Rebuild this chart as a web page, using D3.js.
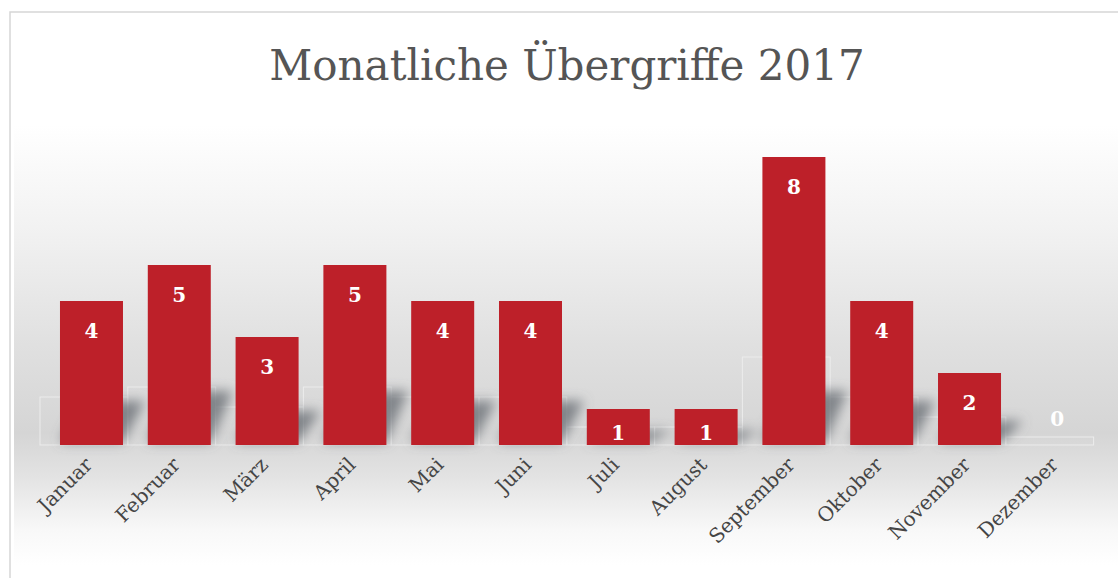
<!DOCTYPE html>
<html>
<head>
<meta charset="utf-8">
<script src="https://cdn.jsdelivr.net/npm/d3@7"></script>
<style>
  body { margin: 0; background: #fff; }
  svg { display: block; }
</style>
</head>
<body>
<svg id="chart" width="1118" height="578"></svg>
<script>
// data
var months = ["Januar", "Februar", "März", "April", "Mai", "Juni", "Juli", "August", "September", "Oktober", "November", "Dezember"];
var values = [4, 5, 3, 5, 4, 4, 1, 1, 8, 4, 2, 0];
var title = "Monatliche Übergriffe 2017";

var svg = d3.select("#chart");
var W = 1118, H = 578;
var base = 445;

var x = d3.scaleBand()
  .domain(months)
  .range([47.6, 1101.2])
  .paddingInner(0.2825)
  .paddingOuter(0.141);

var y = d3.scaleLinear()
  .domain([0, 8])
  .range([base, 157]);

var defs = svg.append("defs");

// background gradient of the plot panel
var grad = defs.append("linearGradient")
  .attr("id", "bg")
  .attr("x1", 0).attr("y1", 0).attr("x2", 0).attr("y2", 1);
[[0, "#ffffff"], [0.25, "#f1f1f1"], [0.5, "#e0e0e0"], [0.7, "#d5d5d5"], [0.73, "#d9d9d9"], [0.8, "#e3e3e3"], [0.92, "#f8f8f8"], [1, "#ffffff"]]
  .forEach(function(s) {
    grad.append("stop").attr("offset", s[0]).attr("stop-color", s[1]);
  });

defs.append("filter")
  .attr("id", "blur")
  .attr("x", "-50%").attr("y", "-50%").attr("width", "200%").attr("height", "200%")
  .append("feGaussianBlur").attr("stdDeviation", 6);

// outer frame
svg.append("rect")
  .attr("x", 10).attr("y", 12)
  .attr("width", W + 10).attr("height", H)
  .attr("fill", "#fff")
  .attr("stroke", "#d6d6d6")
  .attr("stroke-width", 1.5);

svg.append("rect")
  .attr("x", 14).attr("y", 125)
  .attr("width", W - 14).attr("height", 440)
  .attr("fill", "url(#bg)");

// faint floor outlines
svg.append("g")
  .selectAll("rect")
  .data(values)
  .join("rect")
  .attr("x", function(d, i) { return x(months[i]) - 20; })
  .attr("y", function(d) { return base - d * 10 - 8; })
  .attr("width", x.step())
  .attr("height", function(d) { return d * 10 + 8; })
  .attr("fill", "none")
  .attr("stroke", "#ececec")
  .attr("stroke-width", 1);

// shadows falling to the right of each bar
var sh = svg.append("g").attr("filter", "url(#blur)");
values.forEach(function(d, i) {
  if (d == 0) return;
  var x0 = x(months[i]), x1 = x(months[i]) + x.bandwidth();
  var h = Math.min(d * 10, 50) + 4, dx = 22;
  sh.append("path")
    .attr("d", "M" + x0 + "," + (base - 3) + "L" + x1 + "," + (base - 3) +
      "L" + (x1 + dx) + "," + (base - h) + "L" + (x0 + dx) + "," + (base - h) + "Z")
    .attr("fill", "#6c7075")
    .attr("opacity", 0.8);
});

// bars
svg.append("g")
  .selectAll("rect")
  .data(values)
  .join("rect")
  .attr("x", function(d, i) { return x(months[i]); })
  .attr("y", function(d) { return y(d); })
  .attr("width", x.bandwidth())
  .attr("height", function(d) { return base - y(d); })
  .attr("fill", "#bd2029");

// value labels
svg.append("g")
  .selectAll("text")
  .data(values)
  .join("text")
  .attr("x", function(d, i) { return x(months[i]) + x.bandwidth() / 2; })
  .attr("y", function(d) { return d > 0 ? Math.min(y(d) + 37, base - 5) : base - 19; })
  .attr("text-anchor", "middle")
  .attr("font-family", "DejaVu Serif")
  .attr("font-weight", "bold")
  .attr("font-size", 20)
  .attr("fill", "#fff")
  .text(function(d) { return d; });

// month labels
svg.append("g")
  .selectAll("text")
  .data(months)
  .join("text")
  .attr("transform", function(d) {
    return "translate(" + (x(d) + x.bandwidth() / 2 + 2) + ",466) rotate(-45)";
  })
  .attr("text-anchor", "end")
  .attr("font-family", "DejaVu Serif")
  .attr("font-size", 20)
  .attr("fill", "#454545")
  .text(function(d) { return d; });

// title
svg.append("text")
  .attr("x", 567)
  .attr("y", 80)
  .attr("text-anchor", "middle")
  .attr("font-family", "DejaVu Serif")
  .attr("font-size", 42)
  .attr("fill", "#555555")
  .text(title);
</script>
</body>
</html>
